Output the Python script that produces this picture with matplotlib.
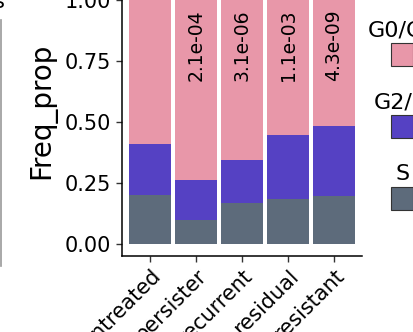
import matplotlib
matplotlib.use("Agg")
import matplotlib.pyplot as plt
from matplotlib.patches import Rectangle
import numpy as np

# Cell-cycle phase proportions per condition
conditions = ["untreated", "persister", "recurrent", "residual", "resistant"]
phases = ["S", "G2/M", "G0/G1"]
s_prop = [0.200, 0.098, 0.169, 0.182, 0.198]
g2m_prop = [0.211, 0.164, 0.175, 0.263, 0.284]
g0g1_prop = [1 - a - b for a, b in zip(s_prop, g2m_prop)]
pvalues = ["", "2.1e-04", "3.1e-06", "1.1e-03", "4.3e-09"]

phase_colors = {"G0/G1": "#E897A9", "G2/M": "#5541C3", "S": "#5D6B7B"}

W, H = 414, 332
fig = plt.figure(figsize=(W / 100, H / 100), dpi=100)

# main panel (pixel geometry -> figure fractions)
left_px, right_px, top_px, bottom_px = 122.4, 361.6, -12.2, 256.0
ax = fig.add_axes([left_px / W, (H - bottom_px) / H,
                   (right_px - left_px) / W, (bottom_px - top_px) / H])

x = np.arange(1, len(conditions) + 1)
width = 0.9
bottoms = np.zeros(len(conditions))
for name, vals in [("S", s_prop), ("G2/M", g2m_prop), ("G0/G1", g0g1_prop)]:
    ax.bar(x, vals, width=width, bottom=bottoms, color=phase_colors[name],
           linewidth=0)
    bottoms += np.array(vals)

for xi, p in zip(x, pvalues):
    if p:
        ax.text(xi, 0.96, p, rotation=90, ha="center", va="top",
                fontsize=13.5, color="black")

ax.set_xlim(0.4, 5.6)
ax.set_ylim(-0.05, 1.05)
ax.set_yticks([0, 0.25, 0.5, 0.75, 1.0])
ax.set_yticklabels(["0.00", "0.25", "0.50", "0.75", "1.00"])
ax.set_xticks(x)
ax.set_xticklabels(conditions, rotation=45, ha="right", va="top",
                   rotation_mode="anchor")
ax.tick_params(axis="both", labelsize=15, length=4, width=1,
               color="#333333", labelcolor="black")
ax.tick_params(axis="y", pad=4)
ax.tick_params(axis="x", pad=3)
for side in ["top", "right"]:
    ax.spines[side].set_visible(False)
for side in ["left", "bottom"]:
    ax.spines[side].set_linewidth(1.1)
    ax.spines[side].set_color("black")
ax.set_ylabel("Freq_prop", fontsize=20)
ax.yaxis.set_label_coords(-0.278, 0.54)

# overlay in pixel units for the legend and the neighbouring panel edge
ov = fig.add_axes([0, 0, 1, 1], facecolor="none")
ov.set_xlim(0, W)
ov.set_ylim(H, 0)
ov.axis("off")
ov.plot([0.8, 0.8], [20, 266], color="#999999", lw=1.2)
ov.text(4.5, 8, "s", ha="right", va="baseline", fontsize=15)

legend_items = ["G0/G1", "G2/M", "S"]
key_tops = [43.3, 115.3, 187.3]
key_cx, key_size = 402, 22.5
for name, kt in zip(legend_items, key_tops):
    ov.add_patch(Rectangle((key_cx - key_size / 2, kt), key_size, key_size,
                           facecolor=phase_colors[name], edgecolor="#333333",
                           lw=0.8))
    ov.text(key_cx + 1, kt - 7, name, ha="center", va="baseline", fontsize=16)

fig.savefig("out.png", dpi=100)
